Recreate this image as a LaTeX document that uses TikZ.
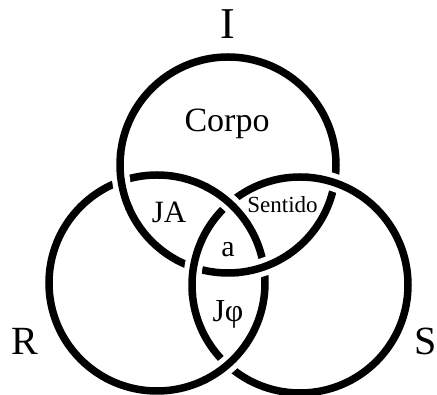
\documentclass[tikz,border=0pt]{standalone}
\usepackage{fontspec}
\setmainfont{Liberation Serif}
\usetikzlibrary{calc}

\begin{document}
\begin{tikzpicture}[x=1pt,y=1pt, ring/.style={line width=7.5pt},
    gap/.style={white,line width=18pt}, lbl/.style={anchor=base,inner sep=0pt}]
  \useasboundingbox (0,0) rectangle (437,395);
  \coordinate (ci) at (228,230);
  \coordinate (cr) at (157,112);
  \coordinate (cs) at (300,110);
  \draw[ring] (ci) circle[radius=108pt];
  \draw[ring] (cr) circle[radius=108pt];
	\draw[ring] (cs) circle[radius=108pt];
  % over crossings
  \foreach \c/\a in {ci/188.7,ci/289.3,cs/71.6,cs/170.4,cr/48.2,cr/-48.9} {
    \draw[gap] (\c) ++(\a-14:108pt) arc[start angle=\a-14,end angle=\a+14,radius=108pt];
    \draw[ring] (\c) ++(\a-15:108pt) arc[start angle=\a-15,end angle=\a+15,radius=108pt];
  }
  \node[lbl,font=\fontsize{44}{44}\selectfont] (I) at (227.5,356) {I};
  \node[lbl,font=\fontsize{40}{40}\selectfont] (R) at (24.5,40) {R};
  \node[lbl,font=\fontsize{40}{40}\selectfont,anchor=base east] (S) at (436.5,40) {S};
  \node[lbl,font=\fontsize{34}{34}\selectfont] (corpo) at (227,263) {Corpo};
  \node[lbl,font=\fontsize{31}{31}\selectfont] (ja) at (169,172) {JA};
  \node[lbl,font=\fontsize{23}{23}\selectfont] (sentido) at (282.5,182) {Sentido};
  \node[lbl,font=\fontsize{30}{30}\selectfont] (a) at (228,138) {a};
  \node[lbl,font=\fontsize{32}{32}\selectfont] (jphi) at (228,73) {Jφ};
\end{tikzpicture}
\end{document}
